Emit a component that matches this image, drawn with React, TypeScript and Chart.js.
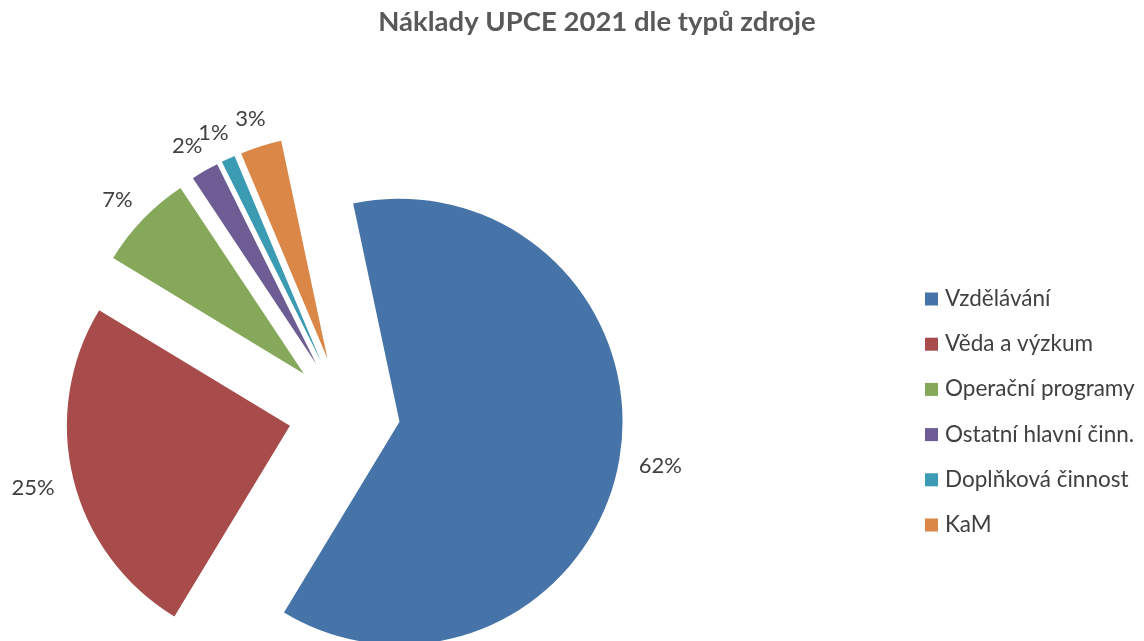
import React, { useEffect, useRef } from "react";
import { Chart, registerables } from "chart.js";

Chart.register(...registerables);

const chartTitle = "Náklady UPCE 2021 dle typů zdroje";
const categories = [
  "Vzdělávání",
  "Věda a výzkum",
  "Operační programy",
  "Ostatní hlavní činn.",
  "Doplňková činnost",
  "KaM",
];
const shares = [62, 25, 7, 2, 1, 3];
const percentLabels = ["62%", "25%", "7%", "2%", "1%", "3%"];
const colors = ["#4674A8", "#A84B4B", "#86A85A", "#6E5C94", "#3B9BB2", "#DA8747"];

const FONT = "Lato, 'Open Sans', sans-serif";
const EXPLODE = 56;
const RADIUS = 223;

const explodePlugin = {
  id: "explode",
  afterDatasetUpdate(chart: any, args: any) {
    const ca = chart.chartArea;
    const cx = (ca.left + ca.right) / 2;
    const cy = (ca.top + ca.bottom) / 2;
    args.meta.data.forEach((el: any) => {
      const mid = (el.startAngle + el.endAngle) / 2;
      el.x = cx + EXPLODE * Math.cos(mid);
      el.y = cy + EXPLODE * Math.sin(mid);
    });
  },
};

const labelPlugin = {
  id: "pieLabels",
  afterDatasetsDraw(chart: any) {
    const ctx = chart.ctx;
    const meta = chart.getDatasetMeta(0);
    ctx.save();
    ctx.font = `22px ${FONT}`;
    ctx.fillStyle = "#404040";
    ctx.textAlign = "center";
    ctx.textBaseline = "middle";
    meta.data.forEach((el: any, i: number) => {
      const mid = (el.startAngle + el.endAngle) / 2;
      const ux = Math.cos(mid);
      const uy = Math.sin(mid);
      const text = percentLabels[i];
      const hw = ctx.measureText(text).width / 2;
      const hh = 11;
      const d = el.outerRadius + 20;
      const x = el.x + d * ux + ux * hw;
      const y = el.y + d * uy + uy * hh + 2;
      ctx.fillText(text, x, y);
    });
    ctx.restore();
  },
};

const titleLegendPlugin = {
  id: "titleLegend",
  afterDraw(chart: any) {
    const ctx = chart.ctx;
    ctx.save();
    ctx.font = `bold 27.5px ${FONT}`;
    ctx.fillStyle = "#595959";
    ctx.textAlign = "center";
    ctx.textBaseline = "alphabetic";
    ctx.fillText(chartTitle, 597, 31);

    ctx.font = `22.5px ${FONT}`;
    ctx.textAlign = "left";
    categories.forEach((c, i) => {
      const cy = 299 + i * 45.2;
      ctx.fillStyle = colors[i];
      ctx.fillRect(925, cy - 6.5, 13, 13);
      ctx.fillStyle = "#404040";
      ctx.fillText(c, 945, cy + 7);
    });
    ctx.restore();
  },
};

export default function App() {
  const ref = useRef<HTMLCanvasElement | null>(null);
  useEffect(() => {
    if (!ref.current) return;
    const chart = new Chart(ref.current, {
      type: "pie",
      data: {
        labels: categories,
        datasets: [
          {
            data: shares,
            backgroundColor: colors,
            borderWidth: 0,
          },
        ],
      },
      options: {
        responsive: false,
        animation: false,
        devicePixelRatio: 1,
        events: [],
        rotation: -12,
        radius: RADIUS,
        layout: { padding: { left: 0, right: 455.4, top: 183.8, bottom: 0 } },
        plugins: {
          legend: { display: false },
          title: { display: false },
          tooltip: { enabled: false },
        },
      },
      plugins: [explodePlugin, labelPlugin, titleLegendPlugin],
    });
    return () => chart.destroy();
  }, []);
  return (
    <div style={{ position: "fixed", left: 0, top: 0, width: 1144, height: 641, background: "#fff" }}>
      <canvas ref={ref} width={1144} height={641} />
    </div>
  );
}
